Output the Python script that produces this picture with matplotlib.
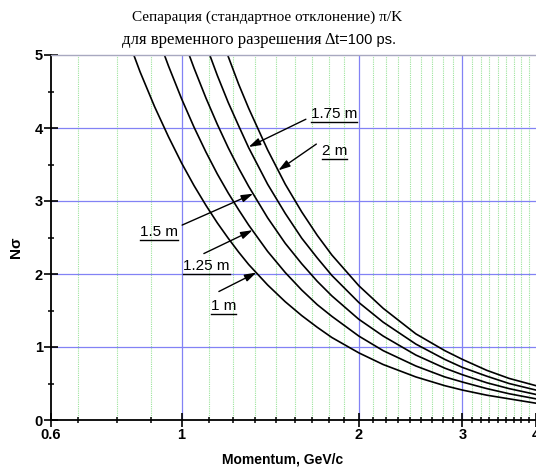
import matplotlib.pyplot as plt
from matplotlib.lines import Line2D
from matplotlib.ticker import FixedLocator, NullFormatter

# momentum, GeV/c
momentum = [0.8, 0.85, 0.9, 0.95, 1.0, 1.05, 1.1, 1.15, 1.2, 1.25, 1.3, 1.4,
            1.5, 1.6, 1.7, 1.8, 2.0, 2.2, 2.5, 2.8, 3.0, 3.3, 3.6, 4.0]

# separation in sigma for each flight path
nsig_1m = [5.34, 4.77, 4.29, 3.88, 3.52, 3.21, 2.94, 2.70, 2.49, 2.30, 2.13, 1.85,
           1.62, 1.43, 1.27, 1.13, 0.92, 0.76, 0.59, 0.47, 0.41, 0.34, 0.29, 0.23]
nsig_125m = [6.67, 5.96, 5.36, 4.85, 4.40, 4.01, 3.67, 3.37, 3.11, 2.88, 2.67, 2.31,
             2.02, 1.78, 1.58, 1.42, 1.15, 0.95, 0.74, 0.59, 0.52, 0.43, 0.36, 0.29]
nsig_15m = [8.00, 7.16, 6.44, 5.82, 5.28, 4.82, 4.41, 4.05, 3.73, 3.45, 3.20, 2.77,
            2.42, 2.14, 1.90, 1.70, 1.38, 1.15, 0.89, 0.71, 0.62, 0.51, 0.43, 0.35]
nsig_175m = [9.34, 8.35, 7.51, 6.79, 6.16, 5.62, 5.14, 4.72, 4.35, 4.03, 3.73, 3.23,
             2.83, 2.49, 2.22, 1.98, 1.61, 1.34, 1.04, 0.83, 0.72, 0.60, 0.50, 0.41]
nsig_2m = [10.67, 9.54, 8.58, 7.75, 7.04, 6.42, 5.88, 5.40, 4.98, 4.60, 4.27, 3.70,
           3.23, 2.85, 2.53, 2.26, 1.84, 1.53, 1.18, 0.95, 0.83, 0.68, 0.57, 0.47]

series = [nsig_1m, nsig_125m, nsig_15m, nsig_175m, nsig_2m]

plt.rcParams['font.family'] = 'Liberation Sans'

fig = plt.figure(figsize=(5.36, 4.68), dpi=100)
ax = fig.add_axes([51 / 536, 48 / 468, 1 - 51 / 536, 365 / 468])

for vals in series:
    ax.plot(momentum, vals, color='black', lw=1.2)

ax.set_xscale('log')
ax.set_xlim(0.6, 4.0)
ax.set_ylim(0, 5)

major_x = [0.6, 1, 2, 3, 4]
minor_x = [k / 9 for k in (6, 7, 8)] + [n + k / 9 for n in (1, 2, 3) for k in range(1, 9)]
ax.xaxis.set_major_locator(FixedLocator(major_x))
ax.xaxis.set_minor_locator(FixedLocator(minor_x))
ax.set_xticklabels(['0.6', '1', '2', '3', '4'])
ax.xaxis.set_minor_formatter(NullFormatter())
ax.set_yticks([0, 1, 2, 3, 4, 5])
ax.set_yticks([0.5, 1.5, 2.5, 3.5, 4.5], minor=True)

# grid
for x in minor_x:
    ax.axvline(x, color='#9be39b', lw=0.8, ls=(0, (1, 1)), zorder=0)
for x in [1, 2, 3]:
    ax.axvline(x, color='#8282f5', lw=0.9, zorder=0)
for y in [1, 2, 3, 4]:
    ax.axhline(y, color='#8282f5', lw=0.9, zorder=0)

ax.tick_params(which='major', direction='inout', length=10, width=1.2,
               labelsize=10.5, pad=1)
ax.tick_params(which='minor', direction='inout', length=4.5, width=1.1)
for lab in ax.get_xticklabels() + ax.get_yticklabels():
    lab.set_fontweight('bold')

ax.spines['right'].set_visible(False)
ax.spines['top'].set_color('#a8a8c0')
ax.spines['top'].set_linewidth(1.0)
ax.spines['left'].set_linewidth(1.3)
ax.spines['bottom'].set_linewidth(1.3)

ax.set_xlabel('Momentum, GeV/c', fontsize=10, fontweight='bold')
ax.xaxis.set_label_coords(0.477, -0.09)
ax.set_ylabel('N\u03c3', fontsize=11, fontweight='bold')
ax.yaxis.set_label_coords(-0.058, 0.474)

# labelled arrows pointing at the curves
notes = [
    ('1 m', (1.178, 1.56), (1.157, 1.76), (1.34, 2.02)),
    ('1.25 m', (1.102, 2.11), (1.091, 2.28), (1.32, 2.60)),
    ('1.5 m', (0.915, 2.58), (1.002, 2.67), (1.323, 3.10)),
    ('1.75 m', (1.817, 4.19), (1.626, 4.12), (1.30, 3.74)),
    ('2 m', (1.817, 3.69), (1.694, 3.78), (1.46, 3.42)),
]
note_texts = []
for text, pos, tail, tip in notes:
    t = ax.text(pos[0], pos[1], text, fontsize=11, ha='center', va='center')
    note_texts.append(t)
    ax.annotate('', xy=tip, xytext=tail,
                arrowprops=dict(arrowstyle='-|>,head_length=0.7,head_width=0.22',
                                color='black', lw=1.0, shrinkA=0, shrinkB=0))

fig.text(0.498, 1 - 17 / 468, 'Сепарация (стандартное отклонение) \u03c0/K',
         family='Liberation Serif', fontsize=11, ha='center', va='center')
fig.text(335 / 536, 1 - 40 / 468, 'для временного разрешения \u0394',
         family='Liberation Serif', fontsize=12, ha='right', va='center')
fig.text(335 / 536, 1 - 40 / 468, 't=100 ps.',
         family='Liberation Sans', fontsize=10.5, ha='left', va='center')

# underline the curve labels
fig.canvas.draw()
renderer = fig.canvas.get_renderer()
inv = fig.transFigure.inverted()
for t in note_texts:
    bb = t.get_window_extent(renderer)
    (x0, y0), (x1, _) = inv.transform([(bb.x0, bb.y0 - 1), (bb.x1, bb.y0)])
    fig.add_artist(Line2D([x0, x1], [y0, y0], color='black', lw=1.0))

fig.savefig('out.png', dpi=100)
